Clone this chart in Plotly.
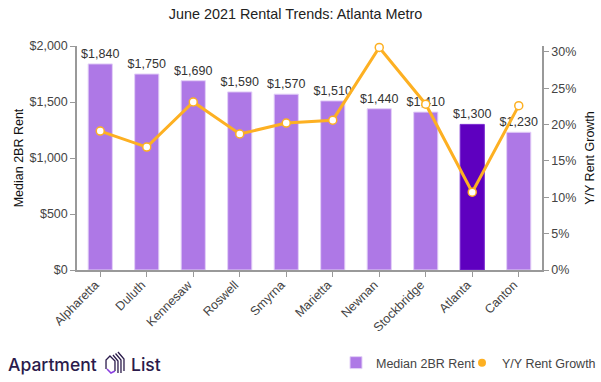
import plotly.graph_objects as go

cities = ["Alpharetta", "Duluth", "Kennesaw", "Roswell", "Smyrna", "Marietta", "Newnan", "Stockbridge", "Atlanta", "Canton"]
rent = [1840, 1750, 1690, 1590, 1570, 1510, 1440, 1410, 1300, 1230]
growth = [19.1, 16.9, 23.1, 18.7, 20.2, 20.6, 30.6, 22.8, 10.7, 22.6]
highlight = "Atlanta"

PURPLE = "#AE78E6"
DARK = "#5E00BF"
ORANGE = "#FDB022"
GREY = "#999999"
TXT = "#444444"
FONT = "Liberation Sans, Arial, sans-serif"

W, H = 601, 382

fig = go.Figure()
fig.add_trace(go.Bar(
    x=cities, y=rent, name="Median 2BR Rent", legend="legend",
    marker=dict(color=[DARK if c == highlight else PURPLE for c in cities],
                line=dict(color=["#7A2BD0" if c == highlight else "#E3D0F7" for c in cities], width=1)),
    text=[f"${v:,}" for v in rent], textposition="outside", constraintext="none",
    textfont=dict(size=12.5, color="#333333", family=FONT), cliponaxis=False,
    hoverinfo="skip", yaxis="y",
))
fig.add_trace(go.Scatter(
    x=cities, y=growth, mode="lines+markers", yaxis="y2", showlegend=False,
    line=dict(color=ORANGE, width=3),
    marker=dict(size=8, color="white", line=dict(color=ORANGE, width=1.5)),
    cliponaxis=False,
))
fig.add_trace(go.Scatter(
    x=[None], y=[None], mode="markers", yaxis="y2", name="Y/Y Rent Growth", legend="legend2",
    marker=dict(size=8, color=ORANGE),
))

# paper coordinates from window pixels
def px(x, y):
    return x / W, 1 - y / H

def path(points, color, width):
    d = ""
    for i, (x, y) in enumerate(points):
        a, b = px(x, y)
        d += ("M" if i == 0 else "L") + f"{a:.4f},{b:.4f} "
    return dict(type="path", path=d, xref="paper", yref="paper", line=dict(color=color, width=width))

INK = "#2B1B4B"
logo = [
    path([(106, 369), (106, 360), (110, 356), (115, 361), (115, 371)], INK, 1.3),
    path([(107, 369), (111, 373), (115, 371)], "#8A3FE0", 1.6),
    path([(113, 355), (118, 361), (118, 373)], INK, 1.3),
    path([(115.5, 353.5), (121, 360), (121, 373)], INK, 1.3),
    path([(118, 352), (124, 359), (124, 371)], INK, 1.3),
]

axis_common = dict(automargin=False, showgrid=False, showline=True, linecolor=GREY, linewidth=1.5,
                   ticks="outside", ticklen=5, tickcolor=GREY, zeroline=False)
legend_common = dict(orientation="h", y=px(0, 363)[1], yanchor="middle", xanchor="right",
                     font=dict(size=12.5, color=TXT), itemwidth=30, bgcolor="rgba(0,0,0,0)")

fig.update_layout(
    width=W, height=H, autosize=False,
    margin=dict(l=0, r=0, t=0, b=0, pad=0),
    paper_bgcolor="white", plot_bgcolor="white",
    font=dict(family=FONT, size=12.5, color=TXT),
    title=dict(text="June 2021 Rental Trends: Atlanta Metro", x=px(295.5, 0)[0], xref="container", xanchor="center",
               y=px(0, 13.5)[1], yanchor="middle", font=dict(size=14.4, color="#222222", family=FONT)),
    bargap=0.48,
    xaxis=dict(domain=[px(77, 0)[0], px(542, 0)[0]], tickangle=-45, tickfont=dict(size=12.5, color=TXT),
               range=[-0.5, 9.5], ticklabelstandoff=-4, ticklabelshift=-5, **axis_common),
    yaxis=dict(domain=[px(0, 270)[1], px(0, 46)[1]],
               title=dict(text="Median 2BR Rent", font=dict(size=12.5, color="#111111"), standoff=3),
               range=[0, 2000], tickvals=[0, 500, 1000, 1500, 2000],
               ticktext=["$0", "$500", "$1,000", "$1,500", "$2,000"], **axis_common),
    yaxis2=dict(title=dict(text="Y/Y Rent Growth", font=dict(size=12.5, color="#111111"), standoff=10),
                overlaying="y", side="right", anchor="x", range=[0, 30.8],
                tickvals=[0, 5, 10, 15, 20, 25, 30], ticktext=[f"{v}%" for v in [0, 5, 10, 15, 20, 25, 30]],
                **axis_common),
    legend=dict(x=px(481, 0)[0], **legend_common),
    legend2=dict(x=px(601, 0)[0], **legend_common),
    shapes=logo,
    annotations=[
        dict(text="Apartment", xref="paper", yref="paper", x=px(6, 0)[0], y=px(0, 364.5)[1], xanchor="left", yanchor="middle",
             showarrow=False, font=dict(family="Inter, Lato, sans-serif", size=17.5, color=INK, weight=500)),
        dict(text="List", xref="paper", yref="paper", x=px(129, 0)[0], y=px(0, 364.5)[1], xanchor="left", yanchor="middle",
             showarrow=False, font=dict(family="Inter, Lato, sans-serif", size=17.5, color=INK, weight=500)),
    ],
)

fig.write_html("out.html", config={"displayModeBar": False}, post_script="document.body.style.margin='0';")
